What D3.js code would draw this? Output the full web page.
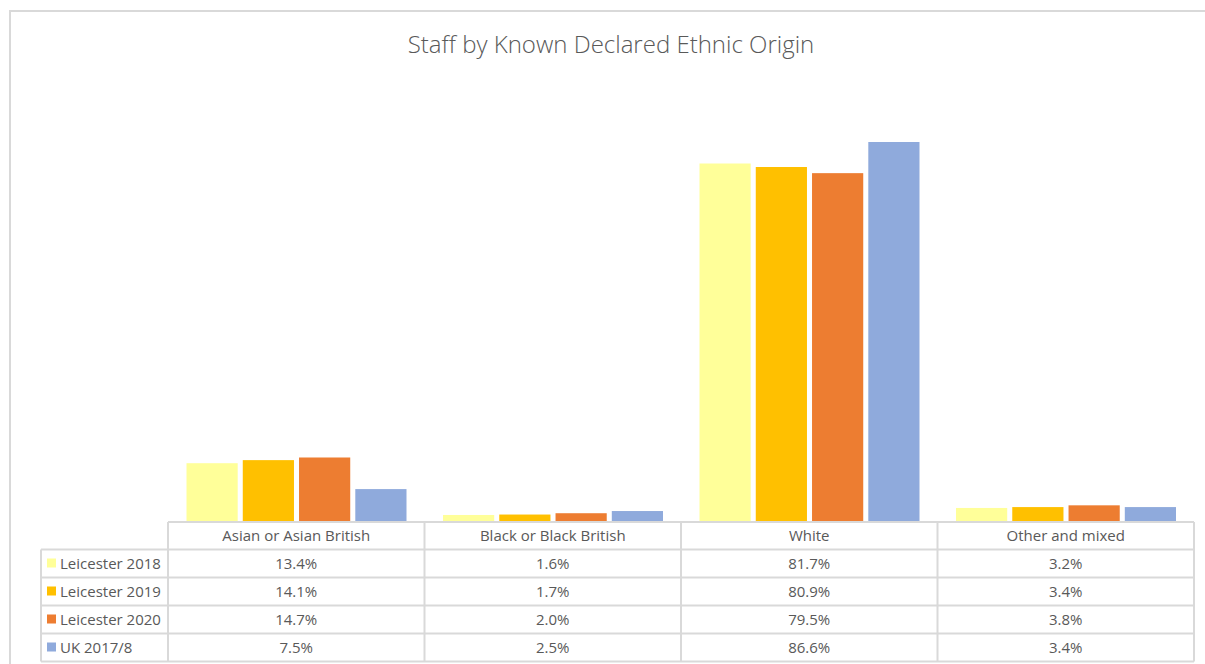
<!DOCTYPE html>
<html><head><meta charset="utf-8">
<script src="https://cdn.jsdelivr.net/npm/d3@7"></script>
<style>body{margin:0;background:#fff;}svg{display:block;font-family:"Open Sans",sans-serif;}</style>
</head><body><svg id="c" width="1205" height="664"></svg>
<script>
const categories = ["Asian or Asian British","Black or Black British","White","Other and mixed"];
const seriesNames = ["Leicester 2018","Leicester 2019","Leicester 2020","UK 2017/8"];
const seriesColors = ["#FFFF99","#FFC000","#ED7D31","#8FAADC"];
const leicester2018 = [13.4,1.6,81.7,3.2];
const leicester2019 = [14.1,1.7,80.9,3.4];
const leicester2020 = [14.7,2.0,79.5,3.8];
const uk2017 = [7.5,2.5,86.6,3.4];
const seriesValues = [leicester2018,leicester2019,leicester2020,uk2017];
const title = "Staff by Known Declared Ethnic Origin";

const svg = d3.select("#c");
const textCol = "#595959", gridCol = "#d9d9d9";

svg.append("path").attr("d","M10,664 V11 H1205").attr("fill","none").attr("stroke",gridCol).attr("stroke-width",2);

svg.append("text").attr("x",611).attr("y",53).attr("text-anchor","middle")
  .attr("font-size",24).attr("fill",textCol).attr("font-weight",300).text(title);

const plotL = 168, plotR = 1194, base = 522;
const x0 = d3.scaleBand().domain(categories).range([plotL, plotR]);
const x1 = d3.scaleBand().domain(seriesNames).range([18.5, 238.5]).paddingInner(0.09);
const y = d3.scaleLinear().domain([0, 86.6]).range([base, 142]);

seriesNames.forEach((s, si) => {
  svg.append("g").selectAll("rect").data(seriesValues[si]).join("rect")
    .attr("x", (d, i) => x0(categories[i]) + x1(s))
    .attr("width", x1.bandwidth())
    .attr("y", d => y(d))
    .attr("height", d => base - y(d))
    .attr("fill", seriesColors[si]);
});

const rowTops = [522, 549.5, 577.5, 605.5, 633.5, 661.5];
const tableL = 41;
const g = svg.append("g").attr("stroke", gridCol).attr("stroke-width", 2).attr("fill","none");
g.append("line").attr("x1", plotL).attr("x2", plotR).attr("y1", rowTops[0]).attr("y2", rowTops[0]);
for (let r = 1; r < rowTops.length; r++) {
  g.append("line").attr("x1", tableL).attr("x2", plotR).attr("y1", rowTops[r]).attr("y2", rowTops[r]);
}
g.append("line").attr("x1", tableL).attr("x2", tableL).attr("y1", rowTops[1]).attr("y2", rowTops[5]);
categories.forEach(c => {
  g.append("line").attr("x1", x0(c)).attr("x2", x0(c)).attr("y1", rowTops[0]).attr("y2", rowTops[5]);
});
g.append("line").attr("x1", plotR).attr("x2", plotR).attr("y1", rowTops[0]).attr("y2", rowTops[5]);

const fs = 15;
categories.forEach(c => {
  svg.append("text").attr("x", x0(c) + x0.bandwidth()/2).attr("y", (rowTops[0]+rowTops[1])/2 + 5.5)
    .attr("text-anchor","middle").attr("font-size",fs).attr("fill",textCol).text(c);
});
seriesNames.forEach((s, si) => {
  const cy = (rowTops[si+1] + rowTops[si+2]) / 2;
  svg.append("rect").attr("x", 47).attr("y", cy - 5).attr("width", 9).attr("height", 9).attr("fill", seriesColors[si]);
  svg.append("text").attr("x", 60).attr("y", cy + 5.5).attr("font-size", fs).attr("fill", textCol).text(s);
  seriesValues[si].forEach((v, i) => {
    svg.append("text").attr("x", x0(categories[i]) + x0.bandwidth()/2).attr("y", cy + 5.5)
      .attr("text-anchor","middle").attr("font-size",fs).attr("fill",textCol).text(v.toFixed(1) + "%");
  });
});
</script></body></html>
